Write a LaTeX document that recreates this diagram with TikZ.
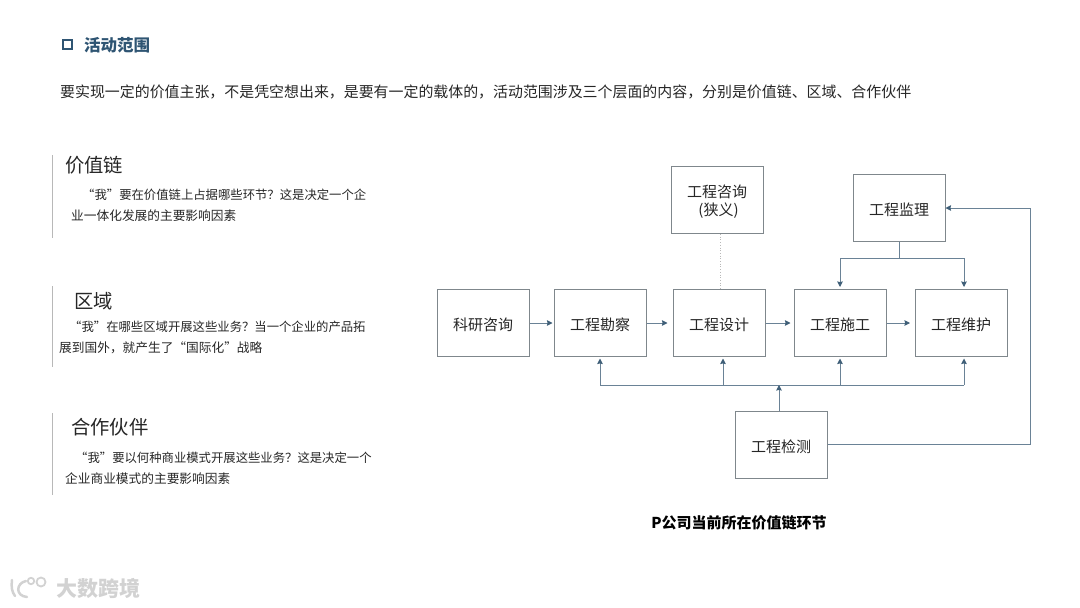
\documentclass[tikz,border=0pt]{standalone}
\usepackage{fontspec}
\setmainfont{Noto Sans CJK SC}
\usepackage{xcolor}
\definecolor{acc}{HTML}{6A8296}
\definecolor{tip}{HTML}{3F5F78}
\definecolor{ttl}{HTML}{2F5573}
\definecolor{edge}{HTML}{7F878C}
\definecolor{bar}{HTML}{B8B8B8}
\definecolor{ink}{HTML}{262626}
\definecolor{wm}{HTML}{D2D2D2}
\usetikzlibrary{arrows.meta,positioning,calc}
\newcommand{\fs}[1]{\fontsize{#1}{#1}\selectfont}
\newcommand{\lb}[2][-7.5pt]{\raisebox{#1}[6pt][6pt]{#2}}
\tikzset{
  >={Stealth[length=5.5pt,width=5.5pt,inset=0.6pt,color=tip]},
  box/.style={draw=edge,line width=1pt,minimum width=92pt,minimum height=67pt,inner sep=0pt,align=center,font=\fs{15},text=ink},
  head/.style={anchor=west,inner sep=0pt,font=\fs{19.3},text=ink},
  body/.style={anchor=west,inner sep=0pt,font=\fs{12.7},text=ink},
  bodyf/.style={body,font=\fs{12.35}},
  lbar/.style={draw=bar,line width=1pt},
  arr/.style={->,draw=acc,line width=1pt},
  lin/.style={draw=acc,line width=1pt},
}
\begin{document}
\begin{tikzpicture}[x=1pt,y=-1pt]
\useasboundingbox (0,0) rectangle (1080,608);
\node[draw=ttl,line width=2pt,minimum size=9pt,inner sep=0pt] (mark) at (67,44) {};
\node[anchor=west,inner sep=0pt,font=\bfseries\fs{16.5},text=ttl] (title) at (84,45.5) {活动范围};
\node[anchor=west,inner sep=0pt,font=\fs{14.93},text=ink] (intro) at (60,91.5) {要实现一定的价值主张，不是凭空想出来，是要有一定的载体的，活动范围涉及三个层面的内容，分别是价值链、区域、合作伙伴};
\draw[lbar] (52,155) -- (52,238);
\node[head] (h1) at (65,165) {价值链};
\node[bodyf] (t1a) at (82,194.5) {“我”要在价值链上占据哪些环节？这是决定一个企};
\node[body] (t1b) at (71,215.5) {业一体化发展的主要影响因素};
\draw[lbar] (52,286) -- (52,367);
\node[head] (h2) at (74,301) {区域};
\node[bodyf] (t2a) at (69,326.5) {“我”在哪些区域开展这些业务？当一个企业的产品拓};
\node[body] (t2b) at (59,347.5) {展到国外，就产生了“国际化”战略};
\draw[lbar] (52,413) -- (52,495);
\node[head] (h3) at (71,427) {合作伙伴};
\node[bodyf] (t3a) at (75,457.5) {“我”要以何种商业模式开展这些业务？这是决定一个};
\node[body] (t3b) at (65,478.5) {企业商业模式的主要影响因素};
\foreach \nm/\x/\n in {ky/483/科研咨询,kc/600/工程勘察,sj/719/工程设计,sg/840/工程施工,wh/961/工程维护}{
  \node[box] (\nm) at (\x,323) {\lb{\n}};}
\node[box] (zx) at (717,200) {\lb[-5.75pt]{\parbox{90pt}{\centering\fontsize{15}{18}\selectfont 工程咨询\\\hspace*{3pt}(狭义)}}};
\node[box] (jl) at (899,208) {\lb{工程监理}};
\node[box] (jc) at (781,445) {\lb{工程检测}};
\foreach \a/\b/\s in {ky/kc/1,kc/sj/5,sj/sg/3,sg/wh/4.5}{
  \draw[arr,shorten >=\s pt] (\a) -- (\b);}
\draw[draw=bar,line width=0.7pt,dotted] (zx.south -| 720,0) -- (sj.north -| 720,0);
\coordinate (top) at (899,258);
\coordinate (tl) at (840,258);
\coordinate (tr) at (964,258);
\draw[lin] (top |- jl.south) -- (top);
\draw[arr,shorten >=2pt] (top) -- (tl) -- (tl |- sg.north);
\draw[arr,shorten >=2pt] (top) -- (tr) -- (tr |- wh.north);
\coordinate (bus) at (779,385);
\coordinate (b1) at (600,385);
\coordinate (b2) at (723,385);
\coordinate (b3) at (840,385);
\coordinate (b4) at (964,385);
\draw[lin] (b1) -- (b4);
\draw[arr] (bus |- jc.north) -- (bus);
\foreach \c/\t in {b1/kc,b2/sj,b3/sg,b4/wh}{
  \draw[arr,shorten >=1.5pt] (\c) -- (\c |- \t.south);}
\coordinate (rt) at (1030,444);
\coordinate (ru) at (1030,208);
\draw[arr] (jc.east |- rt) -- (rt) -- (ru) -- (jl.east);
\node[inner sep=0pt,font=\bfseries\fs{15},text=black] (cap) at (739,523) {P公司当前所在价值链环节};
\node[anchor=west,inner sep=0pt,font=\bfseries\fs{21},text=wm] (wmk) at (56,588) {大数跨境};
\draw[wm,line width=2.5pt,line cap=round] (12,580) .. controls (11,587) and (12,592) .. (15,596);
\draw[wm,line width=2.5pt,line cap=round] (26,581) .. controls (16,583) and (15,596) .. (27,597);
\draw[wm,line width=1.8pt] (31,581) circle (3.2pt);
\draw[wm,line width=1.8pt] (41,582) circle (4.5pt);
\end{tikzpicture}
\end{document}
